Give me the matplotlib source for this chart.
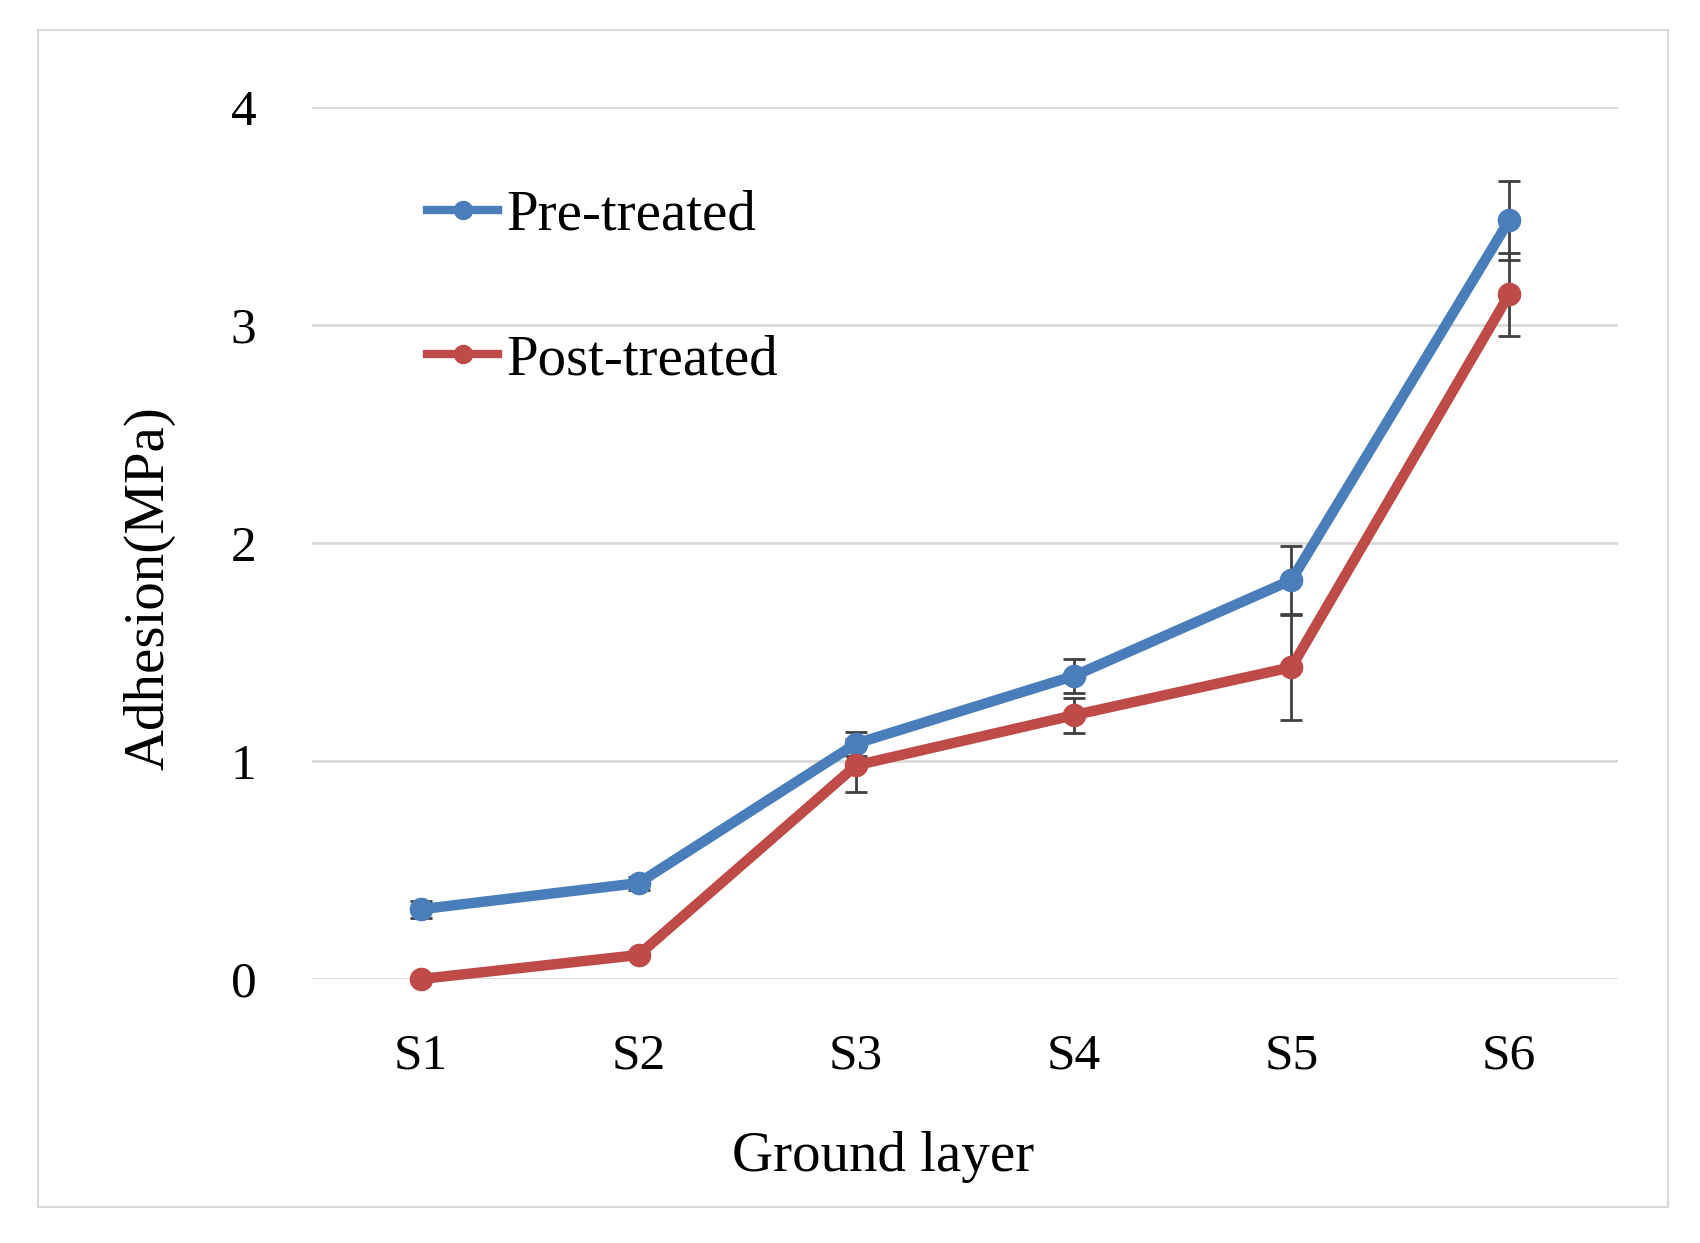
import matplotlib
matplotlib.use("Agg")
import matplotlib.pyplot as plt
from matplotlib.patches import Rectangle
from matplotlib.lines import Line2D

categories = ["S1", "S2", "S3", "S4", "S5", "S6"]
pre_vals = [0.32, 0.44, 1.08, 1.39, 1.83, 3.48]
pre_err = [0.04, 0.03, 0.055, 0.08, 0.155, 0.18]
post_vals = [0.00, 0.11, 0.98, 1.21, 1.43, 3.14]
post_err = [0.0, 0.0, 0.12, 0.08, 0.24, 0.19]
yticks = [0, 1, 2, 3, 4]

plt.rcParams['font.family'] = ['Liberation Serif', 'DejaVu Serif']

W, H = 1700, 1243
fig = plt.figure(figsize=(W / 100, H / 100), dpi=100)
fig.patch.set_facecolor('white')

fig.patches.append(Rectangle((38 / W, 1 - 1207 / H), (1668 - 38) / W, (1207 - 30) / H,
                             transform=fig.transFigure, fill=False,
                             edgecolor='#D9D9D9', linewidth=1.5))

ax = fig.add_axes([312 / W, 1 - 979 / H, (1618 - 312) / W, (979 - 107) / H])
x = list(range(len(categories)))

blue = '#4A7EBB'
red = '#BE4B48'

ax.errorbar(x, pre_vals, yerr=pre_err, color=blue, lw=7.5, marker='o', ms=16,
            ecolor='#404040', elinewidth=2, capsize=8, capthick=2,
            clip_on=False, zorder=3)
ax.errorbar(x, post_vals, yerr=post_err, color=red, lw=7.5, marker='o', ms=16,
            ecolor='#404040', elinewidth=2, capsize=8, capthick=2,
            clip_on=False, zorder=3)

ax.set_xlim(-0.5, 5.5)
ax.set_ylim(0, 4)
ax.set_yticks(yticks)
ax.set_yticklabels([str(v) for v in yticks])
ax.set_xticks(x)
ax.set_xticklabels(categories)
ax.grid(axis='y', color='#D9D9D9', lw=2)
ax.set_axisbelow(True)
for s in ax.spines.values():
    s.set_visible(False)
ax.tick_params(axis='both', length=0, labelsize=37, colors='black')
ax.tick_params(axis='y', pad=40)
ax.tick_params(axis='x', pad=39)

fig.text(883 / W, 1 - 1157 / H, 'Ground layer', ha='center', va='center', fontsize=41)
fig.text(149 / W, 1 - 588 / H, 'Adhesion(MPa)', ha='center', va='center', fontsize=41,
         rotation=90)

handles = [Line2D([], [], color=blue, lw=6, marker='o', ms=13),
           Line2D([], [], color=red, lw=6, marker='o', ms=13)]
leg = ax.legend(handles, ['Pre-treated', 'Post-treated'], loc='upper left',
                bbox_to_anchor=(0.088, 0.905), frameon=False,
                fontsize=41, handlelength=1.25, handletextpad=0.15, labelspacing=1.62,
                borderaxespad=0, borderpad=0)

fig.savefig('out.png', dpi=100)
